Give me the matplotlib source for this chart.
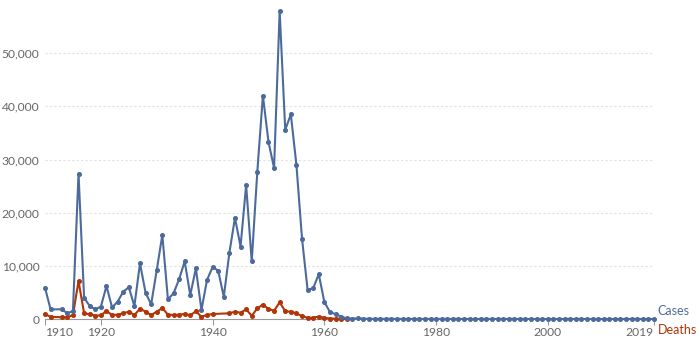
import matplotlib
matplotlib.use("Agg")
import matplotlib.pyplot as plt

# Reported polio cases and deaths, United States
CASE_YEARS = [1910, 1911] + list(range(1913, 2020))
CASES = [5880, 1820,
         1820, 1070, 1500, 27360, 4000, 2440, 1820,                        # 1913-1919
         2320, 6200, 2200, 3250, 5130, 5960, 2440, 10470, 4940, 2750,      # 1920s
         9200, 15800, 3700, 4830, 7460, 10840, 4520, 9510, 1700, 7340,     # 1930s
         9800, 9090, 4170, 12450, 19030, 13620, 25190, 10830, 27730, 42030,  # 1940s
         33300, 28390, 57880, 35590, 38480, 28990, 15140, 5490, 5790, 8430,  # 1950s
         3190, 1310, 910, 450, 120, 72, 113, 41, 53, 18,                   # 1960s
         33, 21, 31, 8, 7, 13, 10, 19, 8, 22,                              # 1970s
         9, 10, 12, 13, 9, 8, 10, 9, 9, 11,                                # 1980s
         6, 10, 6, 4, 8, 7, 7, 3, 1, 0,                                    # 1990s
         0, 0, 0, 0, 0, 1, 0, 0, 0, 0,                                     # 2000s
         0, 0, 0, 0, 0, 0, 0, 0, 0, 0]                                     # 2010s

DEATH_YEARS = [1910, 1911] + list(range(1913, 1941)) + list(range(1943, 1965))
DEATHS = [880, 430,
          320, 300, 750, 7140, 1070, 880, 620,
          700, 1500, 750, 820, 1070, 1380, 750, 1940, 1380, 750,
          1380, 2070, 820, 750, 820, 940, 700, 1440, 430, 750,
          940,
          1070, 1380, 1190, 1820, 600, 2000, 2720,
          1900, 1550, 3150, 1450, 1370, 1040, 570, 220, 255, 450,
          230, 90, 60, 41, 17]

X_TICKS = [1910, 1920, 1940, 1960, 1980, 2000, 2019]
Y_TICKS = [0, 10000, 20000, 30000, 40000, 50000]

BLUE = "#4c6a9c"
RED = "#b13507"
GREY = "#666666"
FS = 8.7

plt.rcParams["font.family"] = ["Lato", "DejaVu Sans"]

fig = plt.figure(figsize=(7, 3.41), dpi=100)
ax = fig.add_axes([45 / 700, 22 / 341, 609 / 700, 319 / 341])

ax.plot(DEATH_YEARS, DEATHS, color=RED, lw=1.5, marker="o", ms=2.6,
        clip_on=False, zorder=3)
ax.plot(CASE_YEARS, CASES, color=BLUE, lw=1.5, marker="o", ms=2.6,
        clip_on=False, zorder=4)

ax.set_xlim(1910, 2019)
ax.set_ylim(0, 60000)

for s in ["top", "right", "left"]:
    ax.spines[s].set_visible(False)
ax.spines["bottom"].set_color("#999999")
ax.spines["bottom"].set_linewidth(0.8)

ax.set_yticks(Y_TICKS)
ax.set_yticklabels([f"{v:,}" for v in Y_TICKS])
ax.tick_params(axis="y", length=0, pad=4, labelsize=FS, labelcolor=GREY)
ax.yaxis.grid(True, color="#e0e0e0", lw=0.8, ls=(0, (2, 2)))
ax.set_axisbelow(True)

ax.set_xticks(X_TICKS)
ax.set_xticklabels([str(y) for y in X_TICKS])
ax.tick_params(axis="x", length=4, color="#999999", pad=2,
               labelsize=FS, labelcolor=GREY)
labels = ax.get_xticklabels()
labels[0].set_horizontalalignment("left")
labels[-1].set_horizontalalignment("right")

ax.text(1.006, 0.024, "Cases", transform=ax.transAxes, color=BLUE,
        fontsize=FS + 0.3, ha="left", va="center")
ax.text(1.006, -0.034, "Deaths", transform=ax.transAxes, color=RED,
        fontsize=FS + 0.3, ha="left", va="center")

fig.savefig("out.png", dpi=100)
